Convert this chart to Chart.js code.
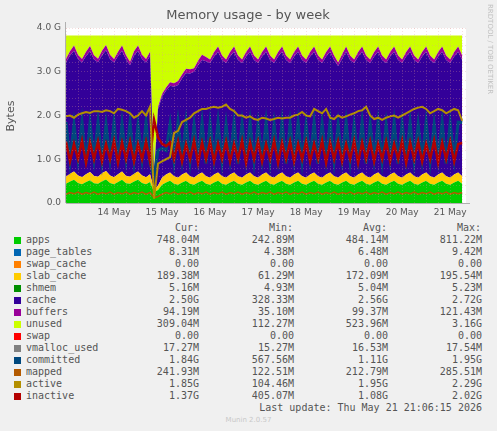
<!DOCTYPE html>
<html>
<head>
<meta charset="utf-8">
<script src="https://cdn.jsdelivr.net/npm/chart.js@4"></script>
<style>
body { margin: 0; background: #f0f0f0; width: 497px; height: 431px; overflow: hidden; position: relative; }
#wrap { position: absolute; left: 0; top: 0; width: 497px; height: 220px; }
#legend { position: absolute; left: 0; top: 222px; font: 10px "DejaVu Sans Mono", monospace; color: #555; }
.row { position: absolute; height: 12px; white-space: pre; }
.sw { position: absolute; left: 14px; top: 3px; width: 7px; height: 7px; }
.num { position: absolute; text-align: right; width: 90px; }
#munin { position: absolute; top: 416px; width: 497px; text-align: center; font: 7px "DejaVu Sans", sans-serif; color: #c8c8c8; }
</style>
</head>
<body>
<div id="wrap"><canvas id="memChart" width="497" height="220"></canvas></div>
<div id="legend"></div>
<div id="munin">Munin 2.0.57</div>
<script>
// time in days since 13 May 00:00, one sample every 2 hours
var days = [];
for (var i = 0; i < 100; i++) days.push(i / 12);

var totalMem = 3.83;
var apps = [0.44,0.49,0.53,0.46,0.43,0.48,0.52,0.45,0.44,0.50,0.54,0.46,0.43,0.48,0.53,0.45,0.44,0.49,0.53,0.46,0.43,0.48,
    0.25,0.30,
    0.42,0.47,0.51,0.44,0.42,0.47,0.51,0.44,0.42,0.47,0.51,0.44,0.42,0.47,0.51,0.44,0.42,0.47,0.51,0.44,
    0.42,0.47,0.51,0.44,0.42,0.47,0.51,0.44,0.42,0.47,0.51,0.44,0.42,0.47,0.51,0.44,0.42,0.47,0.51,0.44,
    0.42,0.47,0.51,0.44,0.42,0.47,0.51,0.44,0.42,0.47,0.51,0.44,0.42,0.47,0.51,0.44,0.42,0.47,0.51,0.44,
    0.42,0.47,0.51,0.44,0.42,0.47,0.51,0.44,0.42,0.47,0.51,0.44,0.42,0.47,0.51,0.44];
var slabCache = [0.16,0.18,0.19,0.17,0.16,0.18,0.19,0.17,0.16,0.18,0.19,0.17,0.16,0.18,0.19,0.17,0.16,0.18,0.19,0.17,
    0.16,0.18,0.06,0.10,0.16,0.18,0.19,0.17,0.16,0.18,0.19,0.17,0.16,0.18,0.19,0.17,0.16,0.18,0.19,0.17,
    0.16,0.18,0.19,0.17,0.16,0.18,0.19,0.17,0.16,0.18,0.19,0.17,0.16,0.18,0.19,0.17,0.16,0.18,0.19,0.17,
    0.16,0.18,0.19,0.17,0.16,0.18,0.19,0.17,0.16,0.18,0.19,0.17,0.16,0.18,0.19,0.17,0.16,0.18,0.19,0.17,
    0.16,0.18,0.19,0.17,0.16,0.18,0.19,0.17,0.16,0.18,0.19,0.17,0.16,0.18,0.19,0.17,0.16,0.18,0.19,0.17];
var cache = [2.62,2.70,2.76,2.66,2.62,2.70,2.76,2.66,2.62,2.70,2.76,2.66,2.62,2.70,2.76,2.66,2.55,2.70,2.76,2.66,
    2.62,2.70,0.33,1.75,1.85,1.92,1.98,2.05,2.12,2.20,2.27,2.35,2.42,2.50,2.57,2.63,2.62,2.70,2.76,2.66,
    2.62,2.70,2.76,2.66,2.62,2.70,2.76,2.66,2.62,2.70,2.76,2.66,2.62,2.70,2.76,2.66,2.62,2.70,2.76,2.66,
    2.62,2.70,2.76,2.66,2.62,2.70,2.76,2.66,2.55,2.65,2.76,2.66,2.62,2.70,2.76,2.66,2.62,2.70,2.76,2.66,
    2.62,2.70,2.76,2.66,2.62,2.70,2.76,2.66,2.62,2.70,2.76,2.66,2.62,2.70,2.76,2.66,2.62,2.70,2.76,2.66];
var buffers = [0.08,0.10,0.12,0.10,0.08,0.10,0.12,0.10,0.08,0.10,0.12,0.10,0.08,0.10,0.12,0.10,0.08,0.10,0.12,0.10,
    0.08,0.10,0.04,0.05,0.06,0.07,0.08,0.08,0.09,0.09,0.10,0.10,0.08,0.10,0.12,0.10,0.08,0.10,0.12,0.10,
    0.08,0.10,0.12,0.10,0.08,0.10,0.12,0.10,0.08,0.10,0.12,0.10,0.08,0.10,0.12,0.10,0.08,0.10,0.12,0.10,
    0.08,0.10,0.12,0.10,0.08,0.10,0.12,0.10,0.08,0.10,0.12,0.10,0.08,0.10,0.12,0.10,0.08,0.10,0.12,0.10,
    0.08,0.10,0.12,0.10,0.08,0.10,0.12,0.10,0.08,0.10,0.12,0.10,0.08,0.10,0.12,0.10,0.08,0.10,0.12,0.10];
var committed = [1.85,0.95,1.80,1.00,1.85,0.90,1.82,1.00,1.85,0.95, 1.80,1.00,1.85,0.90,1.82,1.00,1.85,0.95,1.80,1.00,
    1.85,0.90,0.60,1.20,1.25,1.20,1.80,0.95,1.85,1.00, 1.85,0.95,1.80,1.00,1.85,0.90,1.82,1.00,1.85,0.95,
    1.80,1.00,1.85,0.90,1.82,1.00,1.85,0.95,1.80,1.00, 1.85,0.95,1.80,1.00,1.85,0.90,1.82,1.00,1.85,0.95,
    1.80,1.00,1.85,0.90,1.82,1.00,1.85,0.95,1.80,1.00, 1.85,0.95,1.80,1.00,1.85,0.90,1.82,1.00,1.85,0.95,
    1.80,1.00,1.85,0.90,1.82,1.00,1.85,0.95,1.80,1.00, 1.85,0.95,1.80,1.00,1.85,0.90,1.82,1.00,1.85,1.84];
var inactive = [1.40,0.95,1.35,1.00,1.42,0.92,1.38,1.00,1.40,0.95, 1.35,1.00,1.42,0.92,1.38,1.00,1.40,0.95,1.35,1.00,
    1.40,0.95,1.90,1.50,1.35,1.30,1.38,1.00,1.40,0.95, 1.35,1.00,1.42,0.92,1.38,1.00,1.40,0.95,1.35,1.00,
    1.40,0.95,1.35,1.00,1.42,0.92,1.38,1.00,1.40,0.95, 1.35,1.00,1.42,0.92,1.38,1.00,1.40,0.95,1.35,1.00,
    1.40,0.95,1.35,1.00,1.42,0.92,1.38,1.00,1.40,0.95, 1.35,1.00,1.42,0.92,1.38,1.00,1.40,0.95,1.35,1.00,
    1.40,0.95,1.35,1.00,1.42,0.92,1.38,1.00,1.40,0.95, 1.35,1.00,1.42,0.92,1.38,1.00,1.40,0.95,1.35,1.37];
var mapped = [0.20,0.24,0.21,0.25,0.20,0.24,0.21,0.25,0.20,0.24,0.21,0.25,0.20,0.24,0.21,0.25,0.20,0.24,0.21,0.25,
    0.20,0.24,0.12,0.15,0.20,0.24,0.21,0.25,0.20,0.24,0.21,0.25,0.20,0.24,0.21,0.25,0.20,0.24,0.21,0.25,
    0.20,0.24,0.21,0.25,0.20,0.24,0.21,0.25,0.20,0.24,0.21,0.25,0.20,0.24,0.21,0.25,0.20,0.24,0.21,0.25,
    0.20,0.24,0.21,0.25,0.20,0.24,0.21,0.25,0.20,0.24,0.21,0.25,0.20,0.24,0.21,0.25,0.20,0.24,0.21,0.25,
    0.20,0.24,0.21,0.25,0.20,0.24,0.21,0.25,0.20,0.24,0.21,0.25,0.20,0.24,0.21,0.25,0.20,0.24,0.21,0.24];
var active = [1.98,2.0,1.95,2.02,2.05,2.08,2.06,2.1,2.1,2.08,2.12,2.1,2.05,2.15,2.13,2.1,2.05,1.95,2.0,2.1,2.0,2.2,
    0.1,0.9,
    0.95,1.0,1.05,1.6,1.65,1.85,1.9,1.95,2.05,2.1, 2.15,2.15,2.18,2.2,2.18,2.2,2.25,2.15,2.1,2.0,
    2.0,1.95,1.98,1.92,1.9,1.95,1.93,1.9,1.92,1.95, 1.93,1.95,1.95,2.0,2.02,2.08,2.0,1.98,2.15,2.1,
    2.05,2.15,1.95,1.92,2.0,1.95,1.98,2.02,2.05,2.1, 2.12,2.2,2.0,1.92,1.95,1.9,1.95,1.98,2.0,1.95,
    2.0,2.05,2.1,2.15,2.18,2.2,2.15,2.05,2.1,2.15, 2.12,2.05,2.1,2.15,2.12,1.88];
var yTickLabels = ["0.0", "1.0 G", "2.0 G", "3.0 G", "4.0 G"];
var dayLabels = ["13 May", "14 May", "15 May", "16 May", "17 May", "18 May", "19 May", "20 May", "21 May"];

var legendRows = [
    ["apps", "#00CC00", "748.04M", "242.89M", "484.14M", "811.22M"],
    ["page_tables", "#0066B3", "8.31M", "4.38M", "6.48M", "9.42M"],
    ["swap_cache", "#FF8000", "0.00", "0.00", "0.00", "0.00"],
    ["slab_cache", "#FFCC00", "189.38M", "61.29M", "172.09M", "195.54M"],
    ["shmem", "#008F00", "5.16M", "4.93M", "5.04M", "5.23M"],
    ["cache", "#330099", "2.50G", "328.33M", "2.56G", "2.72G"],
    ["buffers", "#990099", "94.19M", "35.10M", "99.37M", "121.43M"],
    ["unused", "#CCFF00", "309.04M", "112.27M", "523.96M", "3.16G"],
    ["swap", "#FF0000", "0.00", "0.00", "0.00", "0.00"],
    ["vmalloc_used", "#808080", "17.27M", "15.27M", "16.53M", "17.54M"],
    ["committed", "#00487D", "1.84G", "567.56M", "1.11G", "1.95G"],
    ["mapped", "#B35A00", "241.93M", "122.51M", "212.79M", "285.51M"],
    ["active", "#B38F00", "1.85G", "104.46M", "1.95G", "2.29G"],
    ["inactive", "#B30000", "1.37G", "405.07M", "1.08G", "2.02G"]
];

function pts(arr) {
    return arr.map(function (v, i) { return { x: days[i], y: v }; });
}
var unused = days.map(function (d, i) {
    return totalMem - apps[i] - slabCache[i] - cache[i] - buffers[i];
});

function area(label, arr, color, first) {
    return { label: label, data: pts(arr), backgroundColor: color, borderColor: color, borderWidth: 0,
        fill: first ? 'origin' : '-1', stack: 'mem', pointRadius: 0, tension: 0, order: 10 };
}
function line(label, arr, color, ord, w) {
    return { label: label, data: pts(arr), borderColor: color, borderWidth: w, fill: false,
        stack: label, pointRadius: 0, tension: 0, order: ord };
}

var decor = {
    id: 'decor',
    beforeDraw: function (chart) {
        var c = chart.ctx, a = chart.chartArea;
        c.save();
        c.fillStyle = '#ffffff';
        c.fillRect(a.left, a.top, a.right - a.left, a.bottom - a.top);
        c.restore();
    },
    afterDraw: function (chart) {
        var c = chart.ctx, a = chart.chartArea;
        c.save();
        c.fillStyle = '#555';
        c.font = '13px "DejaVu Sans", sans-serif';
        c.textAlign = 'center';
        c.fillText('Memory usage - by week', 248, 19);
        c.font = '11px "DejaVu Sans", sans-serif';
        c.translate(14, 116);
        c.rotate(-Math.PI / 2);
        c.fillText('Bytes', 0, 0);
        c.restore();
        c.save();
        c.fillStyle = '#c0c0c0';
        c.font = '7px "DejaVu Sans", sans-serif';
        c.translate(488, 4);
        c.rotate(Math.PI / 2);
        c.fillText('RRDTOOL / TOBI OETIKER', 0, 0);
        c.restore();
        c.save();
        c.strokeStyle = '#b0b0b0';
        c.beginPath();
        c.moveTo(a.left, a.bottom + 0.5); c.lineTo(a.right + 4, a.bottom + 0.5);
        c.moveTo(a.left - 0.5, a.bottom); c.lineTo(a.left - 0.5, a.top - 6);
        c.stroke();
        c.restore();
    }
};

new Chart(document.getElementById('memChart'), {
    type: 'line',
    data: {
        datasets: [
            area('apps', apps, '#00CC00', true),
            area('slab_cache', slabCache, '#FFCC00'),
            area('cache', cache, '#330099'),
            area('buffers', buffers, '#990099'),
            area('unused', unused, '#CCFF00'),
            line('committed', committed, '#00487D', 4, 3),
            line('mapped', mapped, '#B35A00', 3, 1.5),
            line('active', active, '#B38F00', 1, 2),
            line('inactive', inactive, '#B30000', 2, 2.5)
        ]
    },
    plugins: [decor],
    options: {
        responsive: false,
        animation: false,
        devicePixelRatio: 1,
        layout: { padding: { top: 28, right: 31, left: 0, bottom: 0 } },
        plugins: { legend: { display: false }, tooltip: { enabled: false } },
        scales: {
            x: {
                type: 'linear', min: 0, max: 8.33,
                grid: { color: 'rgba(220,150,150,0.5)', drawTicks: false, lineWidth: 0.6, z: 1 },
                border: { display: false, dash: [1, 2] },
                afterFit: function (s) { s.height = 17; },
                afterBuildTicks: function (s) {
                    var t = [];
                    for (var k = 0; k <= 33; k++) t.push({ value: k / 4 });
                    s.ticks = t;
                },
                ticks: {
                    autoSkip: false, maxRotation: 0, color: '#555', padding: 4,
                    font: { family: 'DejaVu Sans', size: 9 },
                    callback: function (v) { return (v % 1 === 0 && v > 0) ? dayLabels[v] : ''; }
                }
            },
            y: {
                stacked: true, min: 0, max: 4,
                grid: { color: 'rgba(220,150,150,0.5)', drawTicks: false, lineWidth: 0.6, z: 1 },
                border: { display: false, dash: [1, 2] },
                afterFit: function (s) { s.width = 66; },
                afterBuildTicks: function (s) {
                    var t = [];
                    for (var k = 0; k <= 20; k++) t.push({ value: k / 5 });
                    s.ticks = t;
                },
                ticks: {
                    autoSkip: false, color: '#555', padding: 5,
                    font: { family: 'DejaVu Sans', size: 9 },
                    callback: function (v) {
                        var r = Math.round(v * 5);
                        return r % 5 === 0 ? yTickLabels[r / 5] : '';
                    }
                }
            }
        }
    }
});

var lg = document.getElementById('legend');
var html = '<div class="row" style="top:0;left:0;width:497px">' +
    '<span class="num" style="left:109px">Cur:</span><span class="num" style="left:203px">Min:</span>' +
    '<span class="num" style="left:297px">Avg:</span><span class="num" style="left:391px">Max:</span></div>';
legendRows.forEach(function (r, k) {
    var top = 12 + k * 12;
    html += '<div class="row" style="top:' + top + 'px;left:0;width:497px">' +
        '<span class="sw" style="background:' + r[1] + '"></span>' +
        '<span style="position:absolute;left:26px">' + r[0] + '</span>' +
        '<span class="num" style="left:109px">' + r[2] + '</span>' +
        '<span class="num" style="left:204px">' + r[3] + '</span>' +
        '<span class="num" style="left:298px">' + r[4] + '</span>' +
        '<span class="num" style="left:392px">' + r[5] + '</span></div>';
});
html += '<div class="row" style="top:180px;left:0;width:482px;text-align:right">Last update: Thu May 21 21:06:15 2026</div>';
lg.innerHTML = html;
</script>
</body>
</html>
